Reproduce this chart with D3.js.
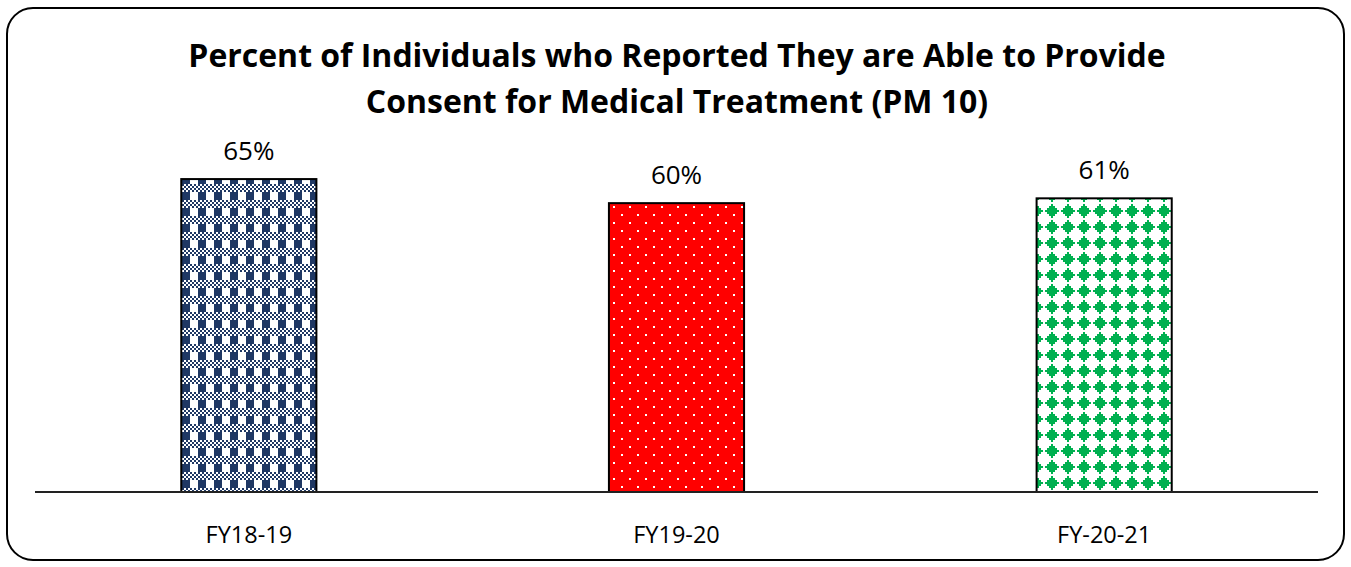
<!DOCTYPE html>
<html>
<head>
<meta charset="utf-8">
<script src="https://cdn.jsdelivr.net/npm/d3@7"></script>
<style>
  html, body { margin: 0; padding: 0; background: #fff; }
  svg { display: block; }
</style>
</head>
<body>
<svg id="chart" width="1351" height="567"></svg>
<script>
// ---- data ----
const categories = ["FY18-19", "FY19-20", "FY-20-21"];
const values = [0.65, 0.60, 0.61];
const valueLabels = ["65%", "60%", "61%"];
const titleLines = [
  "Percent of Individuals who Reported They are Able to Provide",
  "Consent for Medical Treatment (PM 10)"
];

const W = 1351, H = 567;
const svg = d3.select("#chart");
const defs = svg.append("defs");

// Pattern 1: navy plaid/weave
const p1 = defs.append("pattern").attr("id", "pat0").attr("patternUnits", "userSpaceOnUse")
  .attr("width", 16).attr("height", 16).attr("x", 6).attr("y", 12);
p1.append("rect").attr("width", 16).attr("height", 16).attr("fill", "#fff");
p1.append("rect").attr("x", 0).attr("y", 4).attr("width", 8).attr("height", 8).attr("fill", "#1f3864");
for (let yy of [12, 14, 0, 2]) {
  for (let xx = 0; xx < 16; xx += 2) {
    const row = yy / 2, col = xx / 2;
    if ((row + col) % 2 === 0)
      p1.append("rect").attr("x", xx).attr("y", yy).attr("width", 2).attr("height", 2).attr("fill", "#1f3864");
  }
}

// Pattern 2: red with white dots
const p2 = defs.append("pattern").attr("id", "pat1").attr("patternUnits", "userSpaceOnUse")
  .attr("width", 16).attr("height", 16).attr("x", 5).attr("y", 14);
p2.append("rect").attr("width", 16).attr("height", 16).attr("fill", "#ff0000");
p2.append("rect").attr("x", 0).attr("y", 0).attr("width", 2).attr("height", 2).attr("fill", "#fff");
p2.append("rect").attr("x", 8).attr("y", 8).attr("width", 2).attr("height", 2).attr("fill", "#fff");

// Pattern 3: green stepped diamonds on white
const p3 = defs.append("pattern").attr("id", "pat2").attr("patternUnits", "userSpaceOnUse")
  .attr("width", 16).attr("height", 16).attr("x", 4).attr("y", -5);
p3.append("rect").attr("width", 16).attr("height", 16).attr("fill", "#fff");
const widths = [2, 6, 10, 14, 10, 6, 2];
widths.forEach((w, i) => {
  p3.append("rect").attr("x", 8 - w / 2).attr("y", 1 + i * 2).attr("width", w).attr("height", 2).attr("fill", "#00b050");
});

// outer rounded border
svg.append("rect").attr("x", 7).attr("y", 8).attr("width", 1337).attr("height", 552)
  .attr("rx", 26).attr("ry", 26).attr("fill", "#fff").attr("stroke", "#000").attr("stroke-width", 2);

// scales
const x = d3.scaleBand().domain(categories).range([35, 1318]).paddingInner(0.684).paddingOuter(0.342);
const y = d3.scaleLinear().domain([0, 0.7]).range([492, 155]);

// bars
svg.selectAll("rect.bar").data(values).enter().append("rect")
  .attr("class", "bar")
  .attr("x", (d, i) => x(categories[i]))
  .attr("y", d => y(d))
  .attr("width", x.bandwidth())
  .attr("height", d => y(0) - y(d))
  .attr("fill", (d, i) => `url(#pat${i})`)
  .attr("stroke", "#000").attr("stroke-width", 2);

// axis baseline
const xAxis = d3.axisBottom(x).tickSize(0).tickPadding(34);
const gx = svg.append("g").attr("transform", `translate(0,${y(0)})`).call(xAxis);
gx.select(".domain").attr("stroke", "#222").attr("stroke-width", 2).attr("d", `M35,0H1318`);
gx.selectAll(".tick text").attr("font-family", "'Open Sans', Lato, sans-serif")
  .attr("font-size", 23.5).attr("fill", "#000");

// value labels
svg.selectAll("text.val").data(values).enter().append("text")
  .attr("class", "val")
  .attr("x", (d, i) => x(categories[i]) + x.bandwidth() / 2)
  .attr("y", d => y(d) - 19)
  .attr("text-anchor", "middle")
  .attr("font-family", "'Open Sans', Lato, sans-serif")
  .attr("font-size", 26).attr("fill", "#000")
  .text((d, i) => valueLabels[i]);

// title
const title = svg.append("text").attr("text-anchor", "middle")
  .attr("font-family", "'Open Sans', Lato, sans-serif").attr("font-weight", "bold")
  .attr("font-size", 28).attr("fill", "#000");
title.append("tspan").attr("x", 677).attr("y", 67).text(titleLines[0]);
title.append("tspan").attr("x", 677).attr("y", 113).text(titleLines[1]);
const t0 = title.select("tspan").node().getComputedTextLength();
title.attr("font-size", 28 * 978 / t0);
</script>
</body>
</html>
